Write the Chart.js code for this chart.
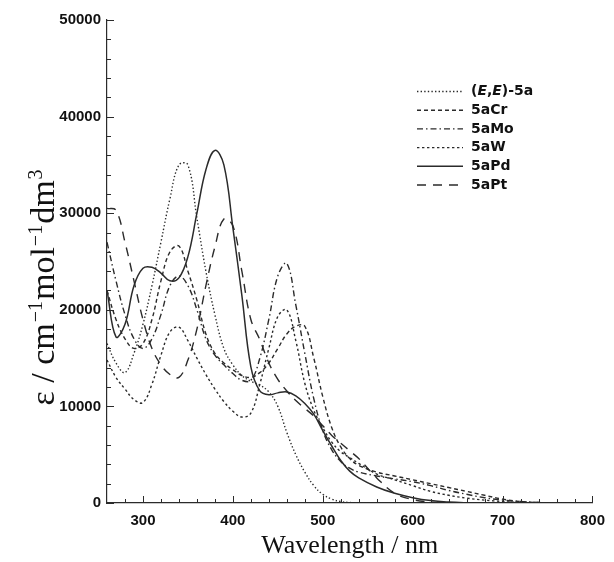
<!DOCTYPE html>
<html>
<head>
<meta charset="utf-8">
<script src="https://cdn.jsdelivr.net/npm/chart.js@4.4.1/dist/chart.umd.min.js"></script>
<style>
  html, body { margin: 0; padding: 0; background: #fff; }
  #wrap { width: 614px; height: 562px; }
</style>
</head>
<body>
<div id="wrap"><canvas id="spectra"></canvas></div>
<script>
// longueurs d'onde communes (nm)
const wavelength = [260, 270, 280, 290, 300, 310, 320, 330, 340, 350, 360, 370, 380, 390, 400,
  410, 420, 430, 440, 450, 460, 470, 480, 490, 500, 510, 520, 530, 540,
  560, 580, 600, 620, 640, 660, 680, 700, 720, 740, 760, 780, 800];

// epsilon
const epsEE = [16500, 14500, 13500, 15500, 18500, 22500, 27000, 31500, 35000, 35000, 29500, 24000, 19500, 16000, 14300,
  13200, 12600, 12200, 11500, 10000, 7300, 5000, 3200, 1800, 900, 400, 150, 50, 0,
  0, 0, 0, 0, 0, 0, 0, 0, 0, 0, 0, 0, 0];
const epsCr = [22000, 19000, 17000, 16000, 16500, 19000, 23000, 26000, 26600, 24000, 21000, 17500, 15500, 14500, 13800,
  13200, 13000, 13500, 14500, 16000, 17500, 18300, 18300, 15000, 11000, 7800, 5800, 4600, 3900,
  3200, 2800, 2400, 2000, 1600, 1200, 800, 400, 150, 50, 0, 0, 0];
const epsMo = [27000, 23000, 19500, 17000, 16000, 17000, 19500, 22500, 23500, 22500, 20000, 17000, 15300, 14300, 13400,
  12700, 12700, 15000, 19000, 23500, 24800, 20500, 15500, 10800, 7500, 5500, 4300, 3600, 3200,
  2800, 2500, 2200, 1800, 1300, 900, 550, 300, 150, 60, 0, 0, 0];
const epsW = [14800, 13000, 11800, 10700, 10400, 12300, 15300, 17700, 18200, 16800, 15000, 13300, 11800, 10500, 9500,
  8900, 9300, 12300, 16000, 19300, 20000, 16800, 12400, 9600, 7800, 6300, 5300, 4700, 4100,
  3000, 2400, 1800, 1200, 800, 500, 300, 150, 50, 0, 0, 0, 0];
const epsPd = [22000, 17200, 18500, 22500, 24300, 24400, 23800, 23000, 23300, 25500, 30000, 34500, 36500, 35000, 28500,
  21500, 14100, 11600, 11200, 11400, 11500, 11100, 10300, 9200, 7500, 5900, 4400, 3300, 2600,
  1660, 1000, 550, 250, 100, 30, 0, 0, 0, 0, 0, 0, 0];
const epsPt = [30500, 30300, 27000, 23000, 19000, 16000, 14300, 13300, 13000, 14800, 18000, 22500, 26500, 29400, 28700,
  24000, 19000, 16900, 14500, 12800, 11600, 10600, 9800, 9000, 8000, 7000, 6200, 5400, 4600,
  2600, 1000, 350, 100, 0, 0, 0, 0, 0, 0, 0, 0, 0];

const seriesNames = ['(E,E)-5a', '5aCr', '5aMo', '5aW', '5aPd', '5aPt'];
const seriesValues = [epsEE, epsCr, epsMo, epsW, epsPd, epsPt];
const seriesDash = [[1.4, 2.2], [4, 3], [6, 3, 1.5, 3], [2.4, 2.6], [], [9, 7]];

const xTicks = [300, 400, 500, 600, 700, 800];
const yTicks = [0, 10000, 20000, 30000, 40000, 50000];

const ink = '#2b2b2b';
const tickFont = { family: '"Liberation Sans", Arial, sans-serif', size: 15, weight: 'bold' };

// petits traits vers l'interieur, comme sur l'original
const innerTicks = {
  id: 'innerTicks',
  afterDraw(chart) {
    const { ctx, scales: { x, y } } = chart;
    ctx.save();
    ctx.strokeStyle = ink;
    ctx.lineWidth = 1;
    ctx.beginPath();
    for (let v = 280; v <= 800; v += 20) {
      const px = Math.round(x.getPixelForValue(v)) + 0.5;
      const len = v % 100 === 0 ? 7 : 4;
      ctx.moveTo(px, y.bottom);
      ctx.lineTo(px, y.bottom - len);
    }
    for (let v = 0; v <= 50000; v += 2000) {
      const py = Math.round(y.getPixelForValue(v)) + 0.5;
      const len = v % 10000 === 0 ? 7 : 4;
      ctx.moveTo(x.left, py);
      ctx.lineTo(x.left + len, py);
    }
    ctx.stroke();
    ctx.restore();
  }
};

// titre de l'axe y avec exposants
const yTitle = {
  id: 'yTitle',
  afterDraw(chart) {
    const ctx = chart.ctx;
    const parts = [['ε / cm', 0], ['−1', 1], ['mol', 0], ['−1', 1], ['dm', 0], ['3', 1]];
    const big = '34px "Liberation Serif", serif', small = '20px "Liberation Serif", serif';
    ctx.save();
    ctx.fillStyle = '#111';
    ctx.textBaseline = 'alphabetic';
    let total = 0;
    parts.forEach(p => { ctx.font = p[1] ? small : big; total += ctx.measureText(p[0]).width + 1; });
    ctx.translate(54, 287);
    ctx.rotate(-Math.PI / 2);
    let cx = -total / 2;
    parts.forEach(p => {
      ctx.font = p[1] ? small : big;
      ctx.fillText(p[0], cx, p[1] ? -12 : 0);
      cx += ctx.measureText(p[0]).width + 1;
    });
    ctx.restore();
  }
};

// legende dessinee dans la zone du graphe
const insetLegend = {
  id: 'insetLegend',
  afterDraw(chart) {
    const ctx = chart.ctx;
    const x0 = 417, x1 = 463, tx = 471;
    ctx.save();
    chart.data.datasets.forEach((ds, i) => {
      const yy = 91.5 + i * 18.7;
      ctx.strokeStyle = ds.borderColor;
      ctx.lineWidth = ds.borderWidth;
      ctx.setLineDash(ds.borderDash);
      ctx.beginPath();
      ctx.moveTo(x0, yy);
      ctx.lineTo(x1, yy);
      ctx.stroke();
      ctx.setLineDash([]);
      ctx.fillStyle = '#111';
      ctx.textBaseline = 'middle';
      let cx = tx;
      for (const ch of ds.label) {
        const italic = ch === 'E';
        ctx.font = (italic ? 'italic ' : '') + 'bold 14px "DejaVu Sans", sans-serif';
        ctx.fillText(ch, cx, yy);
        cx += ctx.measureText(ch).width;
      }
    });
    ctx.restore();
  }
};

const datasets = seriesNames.map((name, i) => ({
  label: name,
  data: wavelength.map((w, k) => ({ x: w, y: seriesValues[i][k] })),
  borderColor: ink,
  borderWidth: i === 4 ? 1.5 : 1.4,
  borderDash: seriesDash[i],
  pointRadius: 0,
  fill: false,
  tension: 0.4
}));

new Chart(document.getElementById('spectra'), {
  type: 'line',
  data: { datasets },
  options: {
    responsive: true,
    maintainAspectRatio: false,
    animation: false,
    layout: { padding: { left: 0, top: 20, right: 15, bottom: 0 } },
    plugins: { legend: { display: false }, tooltip: { enabled: false } },
    scales: {
      x: {
        type: 'linear',
        min: 260,
        max: 800,
        afterBuildTicks: s => { s.ticks = xTicks.map(v => ({ value: v })); },
        afterFit: s => { s.height = 59; },
        grid: { display: false, drawTicks: false },
        border: { display: true, color: ink, width: 1.2 },
        ticks: { color: '#111', font: tickFont, padding: 9, maxRotation: 0 },
        title: {
          display: true,
          text: 'Wavelength / nm',
          color: '#111',
          font: { family: '"Liberation Serif", serif', size: 26 },
          padding: { top: 0, bottom: 0 }
        }
      },
      y: {
        min: 0,
        max: 50000,
        afterBuildTicks: s => { s.ticks = yTicks.map(v => ({ value: v })); },
        afterFit: s => { s.width = 107; },
        grid: { display: false, drawTicks: false },
        border: { display: true, color: ink, width: 1.2 },
        ticks: { color: '#111', font: tickFont, padding: 6, callback: v => String(v) }
      }
    }
  },
  plugins: [innerTicks, yTitle, insetLegend]
});
</script>
</body>
</html>
